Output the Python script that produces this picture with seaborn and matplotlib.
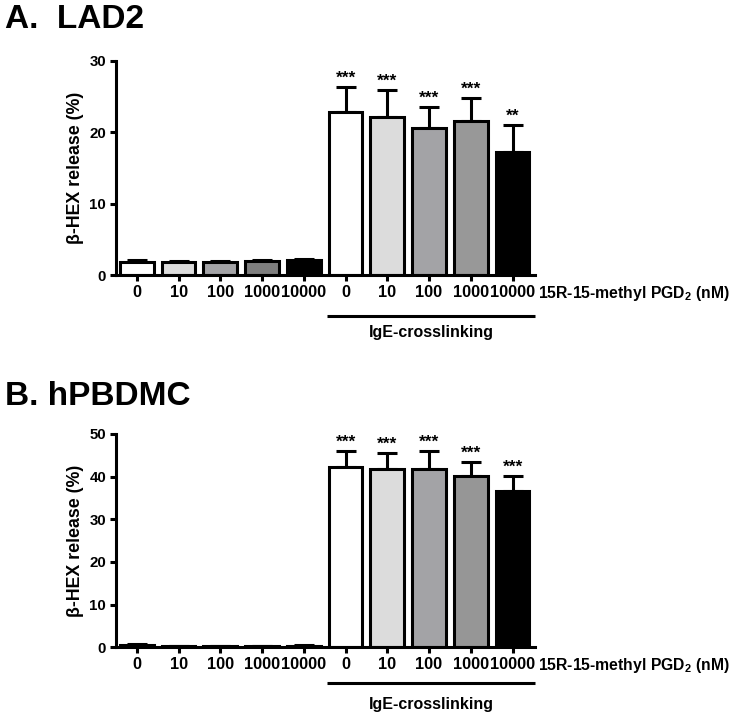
import matplotlib
matplotlib.use("Agg")
import matplotlib.pyplot as plt
import seaborn as sns
import pandas as pd
from matplotlib import transforms

# ---------------- data ----------------
dose_labels = ["0", "10", "100", "1000", "10000", "0", "10", "100", "1000", "10000"]
cond_ids = ["ctrl_0", "ctrl_10", "ctrl_100", "ctrl_1000", "ctrl_10000",
            "ige_0", "ige_10", "ige_100", "ige_1000", "ige_10000"]

lad2_mean = [1.9, 1.8, 1.8, 2.0, 2.1, 22.9, 22.2, 20.6, 21.6, 17.2]
lad2_sem = [0.2, 0.2, 0.2, 0.2, 0.2, 3.4, 3.8, 2.9, 3.2, 3.9]
lad2_sig = ["", "", "", "", "", "***", "***", "***", "***", "**"]

hpbdmc_mean = [0.5, 0.2, 0.2, 0.2, 0.4, 42.2, 41.9, 41.9, 40.1, 36.7]
hpbdmc_sem = [0.3, 0.05, 0.05, 0.05, 0.1, 3.8, 3.7, 4.1, 3.3, 3.4]
hpbdmc_sig = ["", "", "", "", "", "***", "***", "***", "***", "***"]

colors_a = ["#ffffff", "#dcdcdc", "#a3a3a6", "#7f7f7f", "#000000",
            "#ffffff", "#dcdcdc", "#a3a3a6", "#989898", "#000000"]
colors_b = ["#ffffff", "#dcdcdc", "#a3a3a6", "#7f7f7f", "#000000",
            "#ffffff", "#dcdcdc", "#a3a3a6", "#969696", "#000000"]

panel_titles = ["A.  LAD2", "B. hPBDMC"]
ylabel = "β-HEX release (%)"
xlabel_right = r"15R-15-methyl PGD$_\mathbf{2}$ (nM)"
group_label = "IgE-crosslinking"

# ---------------- style ----------------
sns.set_theme(style="ticks")
plt.rcParams["font.family"] = ["Liberation Sans", "DejaVu Sans"]
plt.rcParams["font.weight"] = "bold"
plt.rcParams["axes.labelweight"] = "bold"
plt.rcParams["text.color"] = "black"
plt.rcParams["axes.labelcolor"] = "black"
plt.rcParams["xtick.color"] = "black"
plt.rcParams["ytick.color"] = "black"
plt.rcParams["xtick.labelcolor"] = "black"
plt.rcParams["ytick.labelcolor"] = "black"
plt.rcParams["axes.edgecolor"] = "black"
plt.rcParams["mathtext.fontset"] = "custom"
plt.rcParams["mathtext.rm"] = "Liberation Sans:bold"
plt.rcParams["mathtext.bf"] = "Liberation Sans:bold"
plt.rcParams["mathtext.it"] = "Liberation Sans:bold"

LW = 2.2

fig = plt.figure(figsize=(7.34, 7.18), dpi=100)
ax_a = fig.add_axes([0.158, 0.6166, 0.571, 0.2985])
ax_b = fig.add_axes([0.158, 0.0985, 0.571, 0.2971])


def draw(ax, means, sems, sig, colors, ymax, yticks, title, title_y, line_y, text_y):
    df = pd.DataFrame({"cond": cond_ids, "value": means})
    sns.barplot(data=df, x="cond", y="value", hue="cond", order=cond_ids,
                palette=dict(zip(cond_ids, colors)), width=0.81,
                edgecolor="black", linewidth=LW, errorbar=None,
                legend=False, ax=ax, zorder=2)
    pos = list(range(len(cond_ids)))
    ax.errorbar(pos, means, yerr=[[0] * len(sems), sems], fmt="none",
                ecolor="black", elinewidth=LW, capsize=7, capthick=LW, zorder=1)
    for x, m, s, t in zip(pos, means, sems, sig):
        if t:
            ax.annotate(t, xy=(x, m + s), xytext=(0, 3.0), textcoords="offset points",
                        ha="center", va="baseline", fontsize=12.5, fontweight="bold",
                        color="black")
    ax.set_xlim(-0.5, 9.54)
    ax.set_ylim(0, ymax)
    ax.set_yticks(yticks)
    ax.set_xticks(pos)
    ax.set_xticklabels(dose_labels, fontsize=11.8, fontweight="bold", color="black")
    ax.set_yticklabels([str(v) for v in yticks], fontsize=10.8, fontweight="bold",
                       color="black")
    ax.set_xlabel("")
    ax.set_ylabel(ylabel, fontsize=12.8, fontweight="bold", color="black")
    ax.yaxis.set_label_coords(-0.076, 0.5)
    ax.tick_params(axis="both", length=4.5, width=LW, color="black", pad=2.5)
    sns.despine(ax=ax)
    for sp in ["left", "bottom"]:
        ax.spines[sp].set_linewidth(LW)
        ax.spines[sp].set_color("black")
    ax.set_facecolor("white")
    # right label
    ax.annotate(xlabel_right, xy=(1.0, -0.085), xycoords="axes fraction",
                xytext=(2, 0), textcoords="offset points", ha="left", va="center",
                fontsize=11.3, fontweight="bold", color="black")
    # IgE line and label
    trans = transforms.blended_transform_factory(ax.transData, ax.transAxes)
    ax.plot([4.56, 9.54], [line_y, line_y], color="black", lw=LW,
            transform=trans, clip_on=False, solid_capstyle="butt")
    ax.text((4.56 + 9.54) / 2, text_y, group_label, transform=trans,
            ha="center", va="center", fontsize=11.5, fontweight="bold", color="black")
    fig.text(5 / 734, title_y, title, fontsize=24, fontweight="bold",
             ha="left", va="baseline", color="black")


draw(ax_a, lad2_mean, lad2_sem, lad2_sig, colors_a, 30, [0, 10, 20, 30],
     panel_titles[0], 1 - 28 / 718, -0.19, -0.265)
draw(ax_b, hpbdmc_mean, hpbdmc_sem, hpbdmc_sig, colors_b, 50, [0, 10, 20, 30, 40, 50],
     panel_titles[1], 1 - 405 / 718, -0.169, -0.27)

fig.savefig("out.png", dpi=100, facecolor="white")
